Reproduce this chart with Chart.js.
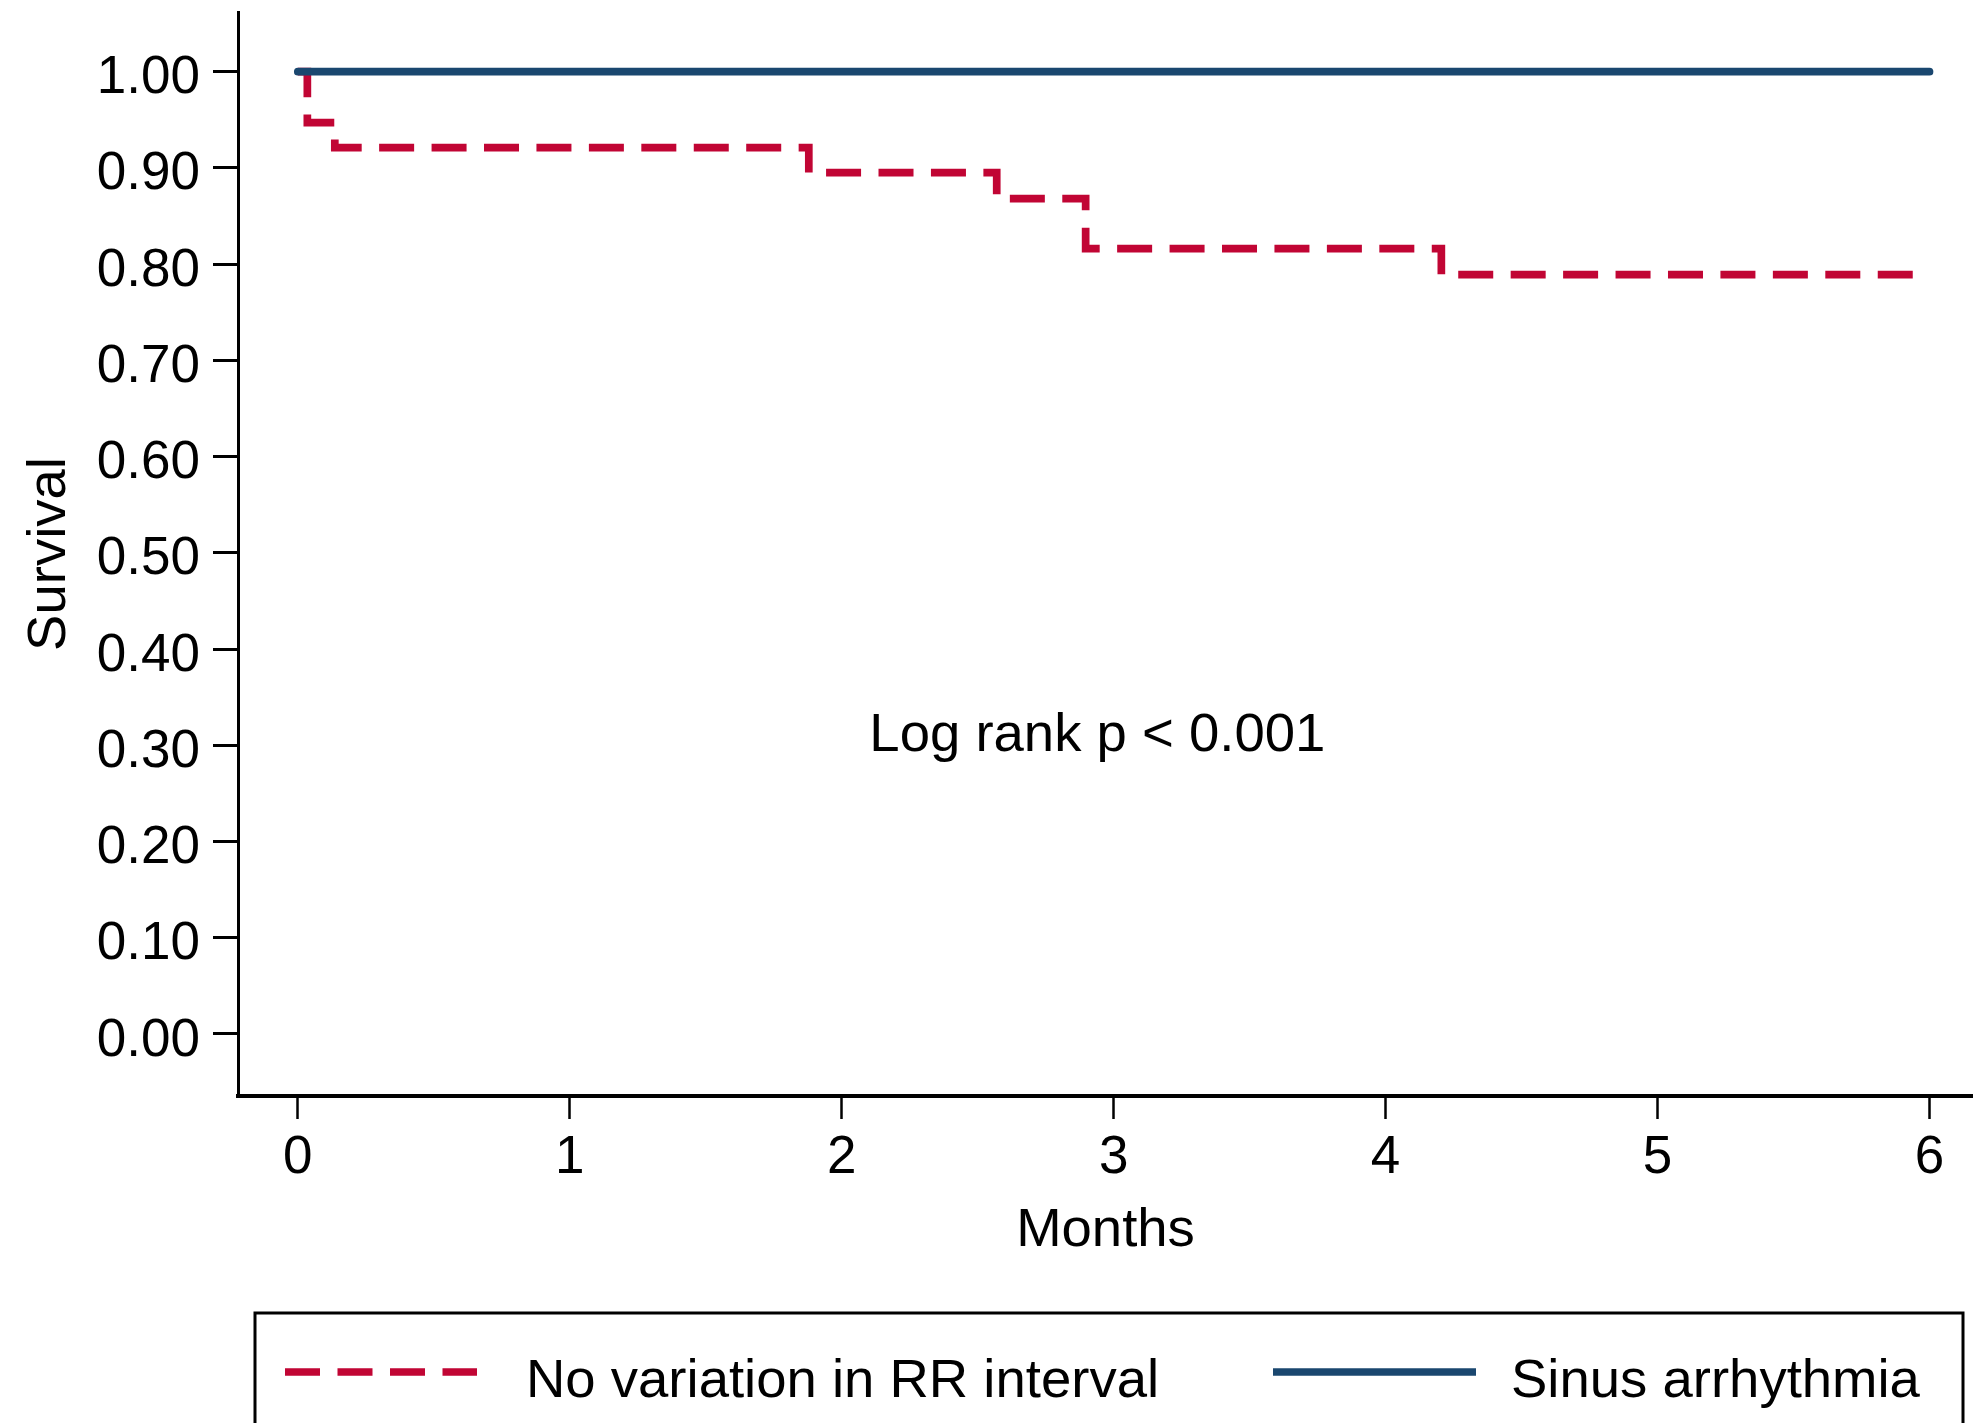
<!DOCTYPE html>
<html lang="en">
<head>
  <meta charset="UTF-8" />
  <title>Survival by RR interval variation</title>
  <script src="https://cdn.jsdelivr.net/npm/chart.js"></script>
  <style>
    html, body { margin: 0; padding: 0; background: #fff; }
    .chart-wrapper { width: 1973px; height: 1423px; }
  </style>
</head>
<body>
<div class="chart-wrapper">
  <canvas id="kmChart" width="1973" height="1423"></canvas>
</div>

<script>
  // Kaplan-Meier survival, time in months
  const noVarMonths = [0, 0.035, 0.136, 1.879, 2.57, 2.897, 4.205, 5.94];
  const noVarSurvival = [1, 0.947, 0.921, 0.895, 0.868, 0.816, 0.789, 0.789];
  const sinusMonths = [0, 6];
  const sinusSurvival = [1, 1];
  const seriesLabels = ['No variation in RR interval', 'Sinus arrhythmia'];
  const xTicks = [0, 1, 2, 3, 4, 5, 6];
  const yTicks = [0, 0.1, 0.2, 0.3, 0.4, 0.5, 0.6, 0.7, 0.8, 0.9, 1.0];
  const pValueText = 'Log rank p < 0.001';
  const pValuePos = { x: 2.94, y: 0.31 };

  const RED = '#c10534';
  const NAVY = '#1a476f';
  const FONT = '"Liberation Sans", Arial, Helvetica, sans-serif';
  const TICK_FS = 53;
  const TEXT_FS = 54.5;

  Chart.defaults.font.family = FONT;
  Chart.defaults.font.size = TICK_FS;
  Chart.defaults.color = '#000';

  const toPoints = (xs, ys) => xs.map((x, i) => ({ x: x, y: ys[i] }));

  // text annotation + boxed legend under the axis
  const extras = {
    id: 'extras',
    afterDraw(chart) {
      const ctx = chart.ctx;
      const xs = chart.scales.x, ys = chart.scales.y;
      ctx.save();
      ctx.fillStyle = '#000';
      ctx.font = TEXT_FS + 'px ' + FONT;
      ctx.textAlign = 'center';
      ctx.textBaseline = 'middle';
      ctx.fillText(pValueText, xs.getPixelForValue(pValuePos.x), ys.getPixelForValue(pValuePos.y));

      // legend box (runs off the bottom edge)
      ctx.lineWidth = 3;
      ctx.strokeStyle = '#000';
      ctx.strokeRect(255, 1313, 1708, 200);

      const items = [
        { ds: chart.data.datasets[1], x0: 285, x1: 477, tx: 526 },
        { ds: chart.data.datasets[0], x0: 1273, x1: 1476, tx: 1511 }
      ];
      const ly = 1372;
      items.forEach(it => {
        ctx.beginPath();
        ctx.strokeStyle = it.ds.borderColor;
        ctx.lineWidth = it.ds.borderWidth;
        ctx.setLineDash(it.ds.borderDash ? [35, 17.5] : []);
        ctx.lineCap = 'butt';
        ctx.moveTo(it.x0, ly);
        ctx.lineTo(it.x1, ly);
        ctx.stroke();
        ctx.setLineDash([]);
        ctx.textAlign = 'left';
        ctx.textBaseline = 'alphabetic';
        ctx.fillText(it.ds.label, it.tx, 1397);
      });
      ctx.restore();
    }
  };

  const config = {
    type: 'line',
    data: {
      datasets: [
        {
          label: seriesLabels[1],
          data: toPoints(sinusMonths, sinusSurvival),
          borderColor: NAVY,
          borderWidth: 7.7,
          borderCapStyle: 'round',
          pointRadius: 0,
          fill: false
        },
        {
          label: seriesLabels[0],
          data: toPoints(noVarMonths, noVarSurvival),
          borderColor: RED,
          borderWidth: 7.7,
          borderDash: [35, 17.44],
          stepped: 'before',
          pointRadius: 0,
          fill: false
        }
      ]
    },
    options: {
      responsive: false,
      animation: false,
      devicePixelRatio: 1,
      layout: { padding: { top: 12, left: 0, right: 0, bottom: 0 } },
      plugins: { legend: { display: false }, tooltip: { enabled: false } },
      scales: {
        x: {
          type: 'linear',
          min: -0.22,
          max: 6.16,
          afterBuildTicks: s => { s.ticks = xTicks.map(v => ({ value: v })); },
          afterFit: s => { s.height = 327; s.paddingLeft = 0; s.paddingRight = 0; },
          ticks: { padding: 8, maxRotation: 0, callback: v => String(v) },
          grid: { drawOnChartArea: false, tickLength: 23, tickWidth: 2.5, tickColor: '#000' },
          border: { display: true, color: '#000', width: 4 },
          title: { display: true, text: 'Months', font: { size: TEXT_FS }, padding: { top: 0, bottom: 159 } }
        },
        y: {
          min: -0.0645,
          max: 1.062,
          afterBuildTicks: s => { s.ticks = yTicks.map(v => ({ value: v })); },
          afterFit: s => { s.width = 238; s.paddingTop = 0; s.paddingBottom = 0; },
          ticks: { padding: 13, labelOffset: 7, callback: v => Number(v).toFixed(2) },
          grid: { drawOnChartArea: false, tickLength: 25, tickWidth: 3, tickColor: '#000' },
          border: { display: true, color: '#000', width: 3 },
          title: { display: true, text: 'Survival', font: { size: TEXT_FS }, padding: { top: 17, bottom: 0 } }
        }
      }
    },
    plugins: [extras]
  };

  new Chart(document.getElementById('kmChart').getContext('2d'), config);
</script>
</body>
</html>
